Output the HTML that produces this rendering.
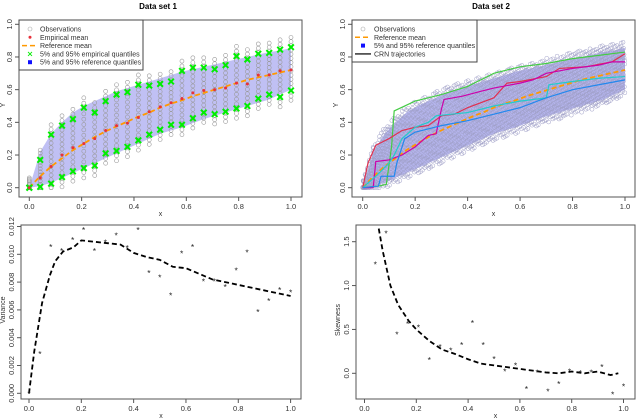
<!DOCTYPE html>
<html><head><meta charset="utf-8"><style>
body{margin:0;background:#fff}
svg{display:block;font-family:"Liberation Sans",sans-serif}
</style></head><body>
<svg id="fig" width="640" height="420"></svg>
<script>
const xGrid=[0,1/24,2/24,3/24,4/24,5/24,6/24,7/24,8/24,9/24,10/24,11/24,12/24,13/24,14/24,15/24,16/24,17/24,18/24,19/24,20/24,21/24,22/24,23/24,1];
const empMean=[0,0.06,0.13,0.20,0.245,0.27,0.30,0.35,0.38,0.395,0.43,0.465,0.495,0.52,0.545,0.58,0.595,0.60,0.61,0.64,0.635,0.69,0.69,0.715,0.72];
const empUpper=[0,0.17,0.325,0.38,0.42,0.49,0.46,0.53,0.57,0.585,0.63,0.625,0.635,0.65,0.715,0.735,0.735,0.725,0.75,0.805,0.785,0.82,0.825,0.845,0.86];
const empLower=[0,0.005,0.025,0.065,0.10,0.12,0.135,0.21,0.225,0.25,0.29,0.325,0.355,0.385,0.385,0.425,0.46,0.45,0.465,0.485,0.50,0.545,0.57,0.555,0.595];
const refMean=[0,0.07,0.13,0.18,0.23,0.27,0.31,0.345,0.375,0.405,0.435,0.46,0.49,0.515,0.535,0.56,0.58,0.60,0.62,0.64,0.66,0.675,0.69,0.705,0.72];
const refUpper=[0,0.22,0.33,0.40,0.46,0.50,0.53,0.56,0.59,0.61,0.63,0.65,0.67,0.69,0.71,0.725,0.74,0.755,0.77,0.785,0.80,0.815,0.83,0.84,0.855];
const refLower=[0,0.01,0.03,0.06,0.09,0.12,0.15,0.18,0.21,0.24,0.27,0.30,0.33,0.35,0.37,0.395,0.42,0.44,0.46,0.48,0.50,0.52,0.54,0.57,0.60];
const yTicksTop=["0.0","0.2","0.4","0.6","0.8","1.0"];
const xTicks=["0.0","0.2","0.4","0.6","0.8","1.0"];
const crnGreen=[[0,0],[0.06,0.01],[0.09,0.02],[0.11,0.25],[0.12,0.47],[0.2,0.53],[0.3,0.57],[0.4,0.62],[0.45,0.66],[0.5,0.7],[0.6,0.74],[0.7,0.76],[0.8,0.79],[0.9,0.81],[1,0.83]];
const crnRed=[[0,0],[0.02,0.15],[0.05,0.26],[0.1,0.3],[0.15,0.35],[0.2,0.37],[0.25,0.38],[0.3,0.44],[0.35,0.45],[0.4,0.49],[0.5,0.55],[0.55,0.64],[0.6,0.65],[0.7,0.68],[0.75,0.73],[0.85,0.74],[0.95,0.77],[1,0.82]];
const crnMagenta=[[0,0],[0.04,0],[0.05,0.16],[0.1,0.17],[0.15,0.2],[0.2,0.25],[0.25,0.32],[0.28,0.33],[0.3,0.48],[0.31,0.54],[0.38,0.56],[0.45,0.59],[0.5,0.61],[0.6,0.64],[0.65,0.66],[0.7,0.7],[0.8,0.73],[0.9,0.75],[0.95,0.77],[1,0.77]];
const crnCyan=[[0,0],[0.05,0.07],[0.1,0.15],[0.12,0.2],[0.15,0.3],[0.2,0.37],[0.25,0.4],[0.28,0.44],[0.4,0.46],[0.5,0.5],[0.6,0.53],[0.7,0.55],[0.71,0.63],[0.8,0.65],[0.9,0.67],[1,0.68]];
const crnBlue=[[0,0],[0.06,0.01],[0.07,0.07],[0.12,0.07],[0.13,0.15],[0.16,0.3],[0.2,0.34],[0.3,0.38],[0.4,0.41],[0.5,0.45],[0.6,0.49],[0.65,0.52],[0.7,0.55],[0.8,0.6],[0.9,0.63],[1,0.66]];
const varPts=[0,0.0029,0.0106,0.0103,0.0111,0.0118,0.0103,0.0109,0.0114,0.0105,0.0118,0.0087,0.0084,0.0071,0.0101,0.0106,0.0081,0.0081,0.0077,0.0089,0.0102,0.0059,0.0067,0.0075,0.0073];
const varCurveX=[0,0.02,0.05,0.08,0.1,0.13,0.17,0.2,0.25,0.3,0.35,0.4,0.45,0.5,0.55,0.6,0.65,0.7,0.75,0.8,0.85,0.9,0.95,1];
const varCurveY=[0,0.003,0.0065,0.0085,0.0095,0.0102,0.0105,0.011,0.0109,0.0108,0.0107,0.0101,0.0098,0.0096,0.0091,0.009,0.0086,0.0082,0.008,0.0078,0.0076,0.0074,0.0072,0.007];
const varTicks=["0.000","0.002","0.004","0.006","0.008","0.010","0.012"];
const skewPtsX=[1/24,2/24,3/24,4/24,5/24,6/24,7/24,8/24,9/24,10/24,11/24,12/24,13/24,14/24,15/24,16/24,17/24,18/24,19/24,20/24,21/24,22/24,23/24,1];
const skewPts=[1.25,1.6,0.45,0.57,0.53,0.16,0.31,0.27,0.33,0.58,0.33,0.17,0.03,0.1,-0.17,0.02,-0.2,-0.11,0.03,0.01,0.02,0.08,-0.23,-0.14];
const skewCurveX=[0.055,0.07,0.1,0.13,0.17,0.2,0.25,0.3,0.35,0.4,0.45,0.5,0.55,0.6,0.65,0.7,0.75,0.8,0.85,0.9,0.95,0.98];
const skewCurveY=[1.65,1.4,1.0,0.78,0.6,0.5,0.37,0.27,0.22,0.16,0.11,0.09,0.07,0.05,0.03,0.01,0,0.02,0,0.02,-0.02,0];
const skewTicks=["0.0","0.5","1.0","1.5"];

const svg=document.getElementById('fig');
const NS='http://www.w3.org/2000/svg';
function mk(tag,attrs,parent){const e=document.createElementNS(NS,tag);for(const k in attrs)e.setAttribute(k,attrs[k]);(parent||svg).appendChild(e);return e;}
function txt(s,x,y,size,parent,extra){const t=mk('text',Object.assign({x:x,y:y,'font-size':size,fill:'#333','text-anchor':'middle'},extra||{}),parent);t.textContent=s;return t;}
function lin(d0,d1,r0,r1){return v=>r0+(v-d0)/(d1-d0)*(r1-r0);}

function axes(g,box,sx,sy,xt,yt,yvals,xlab,ylab){
  const r=mk('rect',{x:box[0],y:box[1],width:box[2]-box[0],height:box[3]-box[1],fill:'none',stroke:'#555','stroke-width':1},g);
  
  xt.forEach((l,i)=>{const x=sx(i*0.2);mk('line',{x1:x,x2:x,y1:box[3],y2:box[3]+4,stroke:'#555'},g);
    const t=txt(l,x,box[3]+12,7.5,g);});
  yt.forEach((l,i)=>{const y=sy(yvals[i]);mk('line',{x1:box[0]-4,x2:box[0],y1:y,y2:y,stroke:'#555'},g);
    const t=txt(l,box[0]-7,y,7.5,g,{transform:`rotate(-90 ${box[0]-7} ${y})`});});
  const xl=txt(xlab,(box[0]+box[2])/2,box[3]+19,7,g);
  const yl=txt(ylab.t,ylab.x,ylab.y,7,g,{transform:`rotate(-90 ${ylab.x} ${ylab.y})`});
}
function xmark(g,x,y,col,sw,s){s=s||2.5;mk('path',{d:`M${x-s},${y-s}L${x+s},${y+s}M${x-s},${y+s}L${x+s},${y-s}`,stroke:col,'stroke-width':sw},g);}
function band(g,sx,sy,xs,up,lo,col){let d='M'+xs.map((x,i)=>sx(x)+','+sy(up[i])).join('L');for(let i=xs.length-1;i>=0;i--)d+='L'+sx(xs[i])+','+sy(lo[i]);d+='Z';
  const p=mk('path',{d:d,fill:col,stroke:'none'},g);}
function polyline(g,sx,sy,xs,ys,attrs,name){const p=mk('polyline',Object.assign({points:xs.map((x,i)=>sx(x)+','+sy(ys[i])).join(' '),fill:'none'},attrs),g);return p;}

// ---------- Panel 1
{const g=mk('g',{});
 const box=[19,20,302,197];const sx=lin(0,1,29.3,291),sy=lin(0,1,187.7,24.3);
 const t=txt('Data set 1',158,9,8,g,{'font-weight':'bold',fill:'#000'});
 band(g,sx,sy,xGrid,refUpper,refLower,'#c0c0f4');
 xGrid.forEach((x,i)=>{const lo=empLower[i]-0.06,hi=empUpper[i]+0.06;const n=16;
   for(let k=0;k<n;k++){const v=Math.max(0,lo+(hi-lo)*k/(n-1));const c=mk('circle',{cx:sx(x),cy:sy(v),r:2,fill:'none',stroke:'#999','stroke-width':0.6},g);}});
 polyline(g,sx,sy,xGrid,refMean,{stroke:'#ff9900','stroke-width':1.8,'stroke-dasharray':'5,3'},'reference-mean-line');
 xGrid.forEach((x,i)=>{xmark(g,sx(x),sy(empUpper[i]),'#00ee00',2,2.8);xmark(g,sx(x),sy(empLower[i]),'#00ee00',2,2.8);
   const c=mk('circle',{cx:sx(x),cy:sy(empMean[i]),r:1.5,fill:'#e8303a'},g);});
 axes(g,box,sx,sy,xTicks,yTicksTop,[0,0.2,0.4,0.6,0.8,1],'x',{t:'Y',x:5,y:105});
 const lg=mk('g',{},g);
 mk('rect',{x:19,y:20,width:124,height:50,fill:'#fff',stroke:'#444'},lg);
 const items=['Observations','Empirical mean','Reference mean','5% and 95% empirical quantiles','5% and 95% reference quantiles'];
 items.forEach((s,i)=>{const y=29+i*8.3;const tt=txt(s,40,y+2.5,7,lg,{'text-anchor':'start'});});
 mk('circle',{cx:30,cy:29,r:2,fill:'none',stroke:'#aaa','stroke-width':0.6},lg);
 mk('circle',{cx:30,cy:37.3,r:1.5,fill:'#e8303a'},lg);
 mk('line',{x1:22,x2:37,y1:45.6,y2:45.6,stroke:'#ff9900','stroke-width':1.5,'stroke-dasharray':'5,3'},lg);
 xmark(lg,30,53.9,'#00ee00',0.9,2);
 mk('rect',{x:28,y:60.2,width:4,height:4,fill:'#1010ff'},lg);
}
// ---------- Panel 2
{const g=mk('g',{});
 const box=[352,20,635,197];const sx=lin(0,1,362.7,625),sy=lin(0,1,187.7,24.3);
 const t=txt('Data set 2',491,9,8,g,{'font-weight':'bold',fill:'#000'});
 band(g,sx,sy,xGrid,refUpper,refLower,'#b4b4ec');
 const N=1600;
 for(let k=0;k<N;k++){const u=(k*0.6180339887)%1,w=(k*0.7548776662)%1;const i=Math.min(23,Math.floor(u*24));const f=u*24-i;
   const lo=refLower[i]+(refLower[i+1]-refLower[i])*f-0.04,hi=refUpper[i]+(refUpper[i+1]-refUpper[i])*f+0.04;
   const c=mk('circle',{cx:sx(u),cy:sy(Math.max(0,lo+(hi-lo)*w)),r:2,fill:'none',stroke:'#a0a0c8','stroke-width':0.5},g);}
 polyline(g,sx,sy,xGrid,refMean,{stroke:'#ff9900','stroke-width':1.8,'stroke-dasharray':'5,3'},'reference-mean-line');
 [[crnGreen,'#44cc44'],[crnRed,'#e03050'],[crnMagenta,'#cc00aa'],[crnCyan,'#22cccc'],[crnBlue,'#2288ee']].forEach(([d,c])=>{
   polyline(g,sx,sy,d.map(p=>p[0]),d.map(p=>p[1]),{stroke:c,'stroke-width':1.2},'crn-trajectory');});
 axes(g,box,sx,sy,xTicks,yTicksTop,[0,0.2,0.4,0.6,0.8,1],'x',{t:'Y',x:338,y:105});
 const lg=mk('g',{},g);
 mk('rect',{x:352,y:20,width:125,height:42,fill:'#fff',stroke:'#444'},lg);
 ['Observations','Reference mean','5% and 95% reference quantiles','CRN trajectories'].forEach((s,i)=>{const y=29+i*8.3;const tt=txt(s,374,y+2.5,7,lg,{'text-anchor':'start'});});
 mk('circle',{cx:363,cy:29,r:2,fill:'none',stroke:'#aaa','stroke-width':0.6},lg);
 mk('line',{x1:355,x2:371,y1:37.3,y2:37.3,stroke:'#ff9900','stroke-width':1.5,'stroke-dasharray':'5,3'},lg);
 mk('rect',{x:361,y:43.6,width:4,height:4,fill:'#1010ff'},lg);
 mk('line',{x1:355,x2:371,y1:53.9,y2:53.9,stroke:'#555','stroke-width':1.8},lg);
}
// ---------- Panel 3 variance
{const g=mk('g',{});
 const box=[21,225,301,399];const sx=lin(0,1,29,290.6),sy=lin(0,0.012,393.3,226.5);
 polyline(g,sx,sy,varCurveX,varCurveY,{stroke:'#000','stroke-width':1.8,'stroke-dasharray':'5,3'},'variance-reference-curve');
 xGrid.forEach((x,i)=>{const t=txt('*',sx(x),sy(varPts[i])+3.8,8.5,g,{fill:'#222'});});
 axes(g,box,sx,sy,xTicks,varTicks,[0,0.002,0.004,0.006,0.008,0.01,0.012],'x',{t:'Variance',x:5,y:310});
}
// ---------- Panel 4 skewness
{const g=mk('g',{});
 const box=[356,225,635,399];const sx=lin(0,1,364.5,623.5),sy=lin(0,1.5,373.3,241.7);
 polyline(g,sx,sy,skewCurveX,skewCurveY,{stroke:'#000','stroke-width':1.8,'stroke-dasharray':'5,3'},'skewness-reference-curve');
 skewPtsX.forEach((x,i)=>{const t=txt('*',sx(x),sy(skewPts[i])+3.8,8.5,g,{fill:'#222'});});
 axes(g,box,sx,sy,xTicks,skewTicks,[0,0.5,1,1.5],'x',{t:'Skewness',x:340,y:320});
}
</script>
</body></html>
